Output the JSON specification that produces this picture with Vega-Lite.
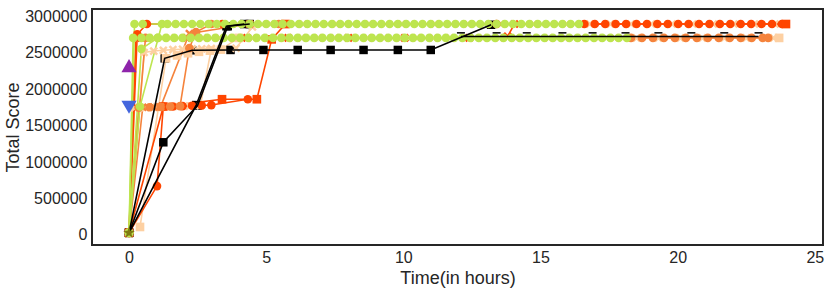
{
  "$schema": "https://vega.github.io/schema/vega-lite/v6.json",
  "width": 731,
  "height": 236,
  "autosize": "none",
  "padding": {"left": 92, "top": 9, "right": 8, "bottom": 46},
  "background": "white",
  "config": {
    "view": {"stroke": "#262626", "strokeWidth": 2},
    "axis": {"grid": false, "ticks": false, "domain": false, "labelFont": "Liberation Sans", "labelFontSize": 16, "labelColor": "#262626", "titleFont": "Liberation Sans", "titleFontSize": 18, "titleFontWeight": "normal", "titleColor": "#262626"}
  },
  "resolve": {"scale": {"shape": "independent"}},
  "data": {"values": [
    {"s":"P4","t":0.3,"v":2700000},{"s":"P4","t":0.9,"v":2700000},{"s":"P4","t":1.5,"v":2700000},{"s":"P4","t":2.1,"v":2700000},{"s":"P4","t":2.7,"v":2700000},{"s":"P4","t":3.3,"v":2700000},{"s":"P4","t":3.9,"v":2700000},{"s":"P4","t":4.5,"v":2700000},{"s":"P4","t":5.1,"v":2700000},{"s":"P4","t":5.7,"v":2700000},{"s":"P4","t":6.3,"v":2700000},{"s":"P4","t":6.9,"v":2700000},{"s":"P4","t":7.5,"v":2700000},{"s":"P4","t":8.1,"v":2700000},{"s":"P4","t":8.7,"v":2700000},{"s":"P4","t":9.3,"v":2700000},{"s":"P4","t":9.9,"v":2700000},{"s":"P4","t":10.5,"v":2700000},{"s":"P4","t":11.1,"v":2700000},{"s":"P4","t":11.7,"v":2700000},{"s":"P4","t":12.3,"v":2700000},{"s":"P4","t":12.9,"v":2700000},{"s":"P4","t":13.5,"v":2700000},{"s":"P4","t":14.1,"v":2700000},{"s":"P4","t":14.7,"v":2700000},{"s":"P4","t":15.3,"v":2700000},{"s":"P4","t":15.9,"v":2700000},{"s":"P4","t":16.5,"v":2700000},{"s":"P4","t":17.1,"v":2700000},{"s":"P4","t":17.7,"v":2700000},{"s":"P4","t":18.5,"v":2700000},{"s":"P4","t":19.3,"v":2700000},{"s":"P4","t":20.1,"v":2700000},{"s":"P4","t":20.9,"v":2700000},{"s":"P4","t":21.7,"v":2700000},{"s":"P4","t":22.5,"v":2700000},{"s":"P4","t":23.5,"v":2700000},
    {"s":"P1","t":0.4,"v":110000},{"s":"P1","t":1.35,"v":2420000},{"s":"P1","t":1.75,"v":2460000},{"s":"P1","t":2.15,"v":2490000},{"s":"P1","t":2.55,"v":2510000},{"s":"P1","t":2.95,"v":2525000},{"s":"P1","t":3.35,"v":2540000},{"s":"P1","t":4.0,"v":2700000},{"s":"P1","t":23.7,"v":2700000},
    {"s":"P2","t":0,"v":30000},{"s":"P2","t":0.55,"v":2500000},{"s":"P2","t":0.9,"v":2520000},{"s":"P2","t":1.25,"v":2530000},{"s":"P2","t":1.6,"v":2540000},{"s":"P2","t":1.95,"v":2545000},{"s":"P2","t":2.3,"v":2550000},{"s":"P2","t":2.65,"v":2550000},{"s":"P2","t":3.0,"v":2555000},{"s":"P2","t":3.9,"v":2560000},{"s":"P2","t":4.5,"v":2850000},{"s":"P2","t":5.15,"v":2890000},{"s":"P2","t":6.35,"v":2890000},{"s":"P2","t":7.55,"v":2890000},{"s":"P2","t":8.75,"v":2890000},{"s":"P2","t":9.95,"v":2890000},{"s":"P2","t":11.15,"v":2890000},{"s":"P2","t":12.35,"v":2890000},{"s":"P2","t":13.55,"v":2890000},{"s":"P2","t":14.75,"v":2890000},{"s":"P2","t":15.95,"v":2890000},{"s":"P2","t":16.8,"v":2890000},{"s":"P2","t":17.55,"v":2890000},{"s":"P2","t":18.3,"v":2890000},{"s":"P2","t":19.05,"v":2890000},{"s":"P2","t":19.8,"v":2890000},{"s":"P2","t":20.55,"v":2890000},{"s":"P2","t":21.3,"v":2890000},{"s":"P2","t":22.05,"v":2890000},{"s":"P2","t":22.8,"v":2890000},{"s":"P2","t":23.55,"v":2890000},
    {"s":"P3","t":0,"v":30000},{"s":"P3","t":0.2,"v":1740000},{"s":"P3","t":0.6,"v":1745000},{"s":"P3","t":1.0,"v":1750000},{"s":"P3","t":1.4,"v":1755000},{"s":"P3","t":1.8,"v":1760000},{"s":"P3","t":2.2,"v":1765000},{"s":"P3","t":2.6,"v":1770000},{"s":"P3","t":3.0,"v":2550000},
    {"s":"R1","t":0,"v":30000},{"s":"R1","t":0.3,"v":2750000},{"s":"R1","t":0.65,"v":2890000},{"s":"R1","t":3.4,"v":2890000},{"s":"R1","t":13.4,"v":2890000},{"s":"R1","t":16.6,"v":2890000},{"s":"R1","t":16.98,"v":2890000},{"s":"R1","t":17.36,"v":2890000},{"s":"R1","t":17.74,"v":2890000},{"s":"R1","t":18.12,"v":2890000},{"s":"R1","t":18.5,"v":2890000},{"s":"R1","t":18.88,"v":2890000},{"s":"R1","t":19.26,"v":2890000},{"s":"R1","t":19.64,"v":2890000},{"s":"R1","t":20.02,"v":2890000},{"s":"R1","t":20.4,"v":2890000},{"s":"R1","t":20.78,"v":2890000},{"s":"R1","t":21.16,"v":2890000},{"s":"R1","t":21.54,"v":2890000},{"s":"R1","t":21.92,"v":2890000},{"s":"R1","t":22.3,"v":2890000},{"s":"R1","t":22.68,"v":2890000},{"s":"R1","t":23.06,"v":2890000},{"s":"R1","t":23.44,"v":2890000},{"s":"R1","t":23.8,"v":2890000},
    {"s":"R2","t":0,"v":30000},{"s":"R2","t":1.02,"v":670000},{"s":"R2","t":1.25,"v":1760000},{"s":"R2","t":1.6,"v":1760000},{"s":"R2","t":1.95,"v":1765000},{"s":"R2","t":2.3,"v":1770000},{"s":"R2","t":2.65,"v":1775000},{"s":"R2","t":3.0,"v":1780000},{"s":"R2","t":4.33,"v":1860000},
    {"s":"R3","t":0,"v":30000},{"s":"R3","t":1.25,"v":1760000},{"s":"R3","t":3.39,"v":1860000},{"s":"R3","t":4.66,"v":1860000},{"s":"R3","t":5.2,"v":2680000},{"s":"R3","t":5.7,"v":2890000},{"s":"R3","t":23.95,"v":2890000},
    {"s":"R4","t":0,"v":30000},{"s":"R4","t":0.25,"v":2700000},{"s":"R4","t":2.1,"v":2700000},{"s":"R4","t":4.3,"v":2700000},{"s":"R4","t":5.8,"v":2700000},{"s":"R4","t":8.0,"v":2700000},{"s":"R4","t":10.05,"v":2700000},{"s":"R4","t":12.4,"v":2700000},{"s":"R4","t":13.8,"v":2720000},{"s":"R4","t":14.05,"v":2890000},
    {"s":"O1","t":0,"v":30000},{"s":"O1","t":0.35,"v":1745000},{"s":"O1","t":0.75,"v":1750000},{"s":"O1","t":1.15,"v":1755000},{"s":"O1","t":1.5,"v":1760000},{"s":"O1","t":1.86,"v":1765000},{"s":"O1","t":2.2,"v":2560000},{"s":"O1","t":2.44,"v":2780000},{"s":"O1","t":3.0,"v":2890000},{"s":"O1","t":5.46,"v":2890000},
    {"s":"O2","t":0,"v":30000},{"s":"O2","t":0.6,"v":2700000},{"s":"O2","t":18.3,"v":2700000},{"s":"O2","t":18.7,"v":2700000},{"s":"O2","t":19.1,"v":2700000},{"s":"O2","t":19.5,"v":2700000},{"s":"O2","t":19.9,"v":2700000},{"s":"O2","t":20.3,"v":2700000},{"s":"O2","t":20.7,"v":2700000},{"s":"O2","t":21.1,"v":2700000},{"s":"O2","t":21.5,"v":2700000},{"s":"O2","t":21.9,"v":2700000},{"s":"O2","t":22.3,"v":2700000},{"s":"O2","t":22.7,"v":2700000},{"s":"O2","t":23.1,"v":2700000},{"s":"O2","t":23.3,"v":2700000},
    {"s":"O3","t":0,"v":30000},{"s":"O3","t":0.5,"v":1750000},{"s":"O3","t":0.9,"v":1752000},{"s":"O3","t":1.15,"v":1755000},{"s":"O3","t":2.2,"v":2760000},{"s":"O3","t":4.4,"v":2890000},
    {"s":"G3","t":0,"v":30000},{"s":"G3","t":0.4,"v":1760000},{"s":"G3","t":1.2,"v":2890000},
    {"s":"G4","t":0,"v":30000},{"s":"G4","t":0.45,"v":2550000},{"s":"G4","t":1.05,"v":2700000},
    {"s":"G1","t":0,"v":30000},{"s":"G1","t":0.2,"v":2890000},{"s":"G1","t":0.5,"v":2890000},{"s":"G1","t":1.4,"v":2890000},{"s":"G1","t":1.7,"v":2890000},{"s":"G1","t":2.0,"v":2890000},{"s":"G1","t":2.3,"v":2890000},{"s":"G1","t":2.6,"v":2890000},{"s":"G1","t":2.9,"v":2890000},{"s":"G1","t":3.2,"v":2890000},{"s":"G1","t":3.5,"v":2890000},{"s":"G1","t":3.8,"v":2890000},{"s":"G1","t":4.1,"v":2890000},{"s":"G1","t":4.4,"v":2890000},{"s":"G1","t":4.7,"v":2890000},{"s":"G1","t":5.0,"v":2890000},{"s":"G1","t":5.3,"v":2890000},{"s":"G1","t":5.6,"v":2890000},{"s":"G1","t":5.9,"v":2890000},{"s":"G1","t":6.2,"v":2890000},{"s":"G1","t":6.5,"v":2890000},{"s":"G1","t":6.8,"v":2890000},{"s":"G1","t":7.1,"v":2890000},{"s":"G1","t":7.4,"v":2890000},{"s":"G1","t":7.7,"v":2890000},{"s":"G1","t":8.0,"v":2890000},{"s":"G1","t":8.3,"v":2890000},{"s":"G1","t":8.6,"v":2890000},{"s":"G1","t":8.9,"v":2890000},{"s":"G1","t":9.2,"v":2890000},{"s":"G1","t":9.5,"v":2890000},{"s":"G1","t":9.8,"v":2890000},{"s":"G1","t":10.1,"v":2890000},{"s":"G1","t":10.4,"v":2890000},{"s":"G1","t":10.7,"v":2890000},{"s":"G1","t":11.0,"v":2890000},{"s":"G1","t":11.3,"v":2890000},{"s":"G1","t":11.6,"v":2890000},{"s":"G1","t":11.9,"v":2890000},{"s":"G1","t":12.2,"v":2890000},{"s":"G1","t":12.5,"v":2890000},{"s":"G1","t":12.8,"v":2890000},{"s":"G1","t":13.1,"v":2890000},{"s":"G1","t":13.4,"v":2890000},{"s":"G1","t":13.7,"v":2890000},{"s":"G1","t":14.0,"v":2890000},{"s":"G1","t":14.3,"v":2890000},{"s":"G1","t":14.6,"v":2890000},{"s":"G1","t":14.9,"v":2890000},{"s":"G1","t":15.2,"v":2890000},{"s":"G1","t":15.5,"v":2890000},{"s":"G1","t":15.8,"v":2890000},{"s":"G1","t":16.1,"v":2890000},{"s":"G1","t":16.4,"v":2890000},
    {"s":"G2","t":0,"v":30000},{"s":"G2","t":0.15,"v":2700000},{"s":"G2","t":0.45,"v":2700000},{"s":"G2","t":0.75,"v":2700000},{"s":"G2","t":1.05,"v":2700000},{"s":"G2","t":1.35,"v":2700000},{"s":"G2","t":1.65,"v":2700000},{"s":"G2","t":1.95,"v":2700000},{"s":"G2","t":2.25,"v":2700000},{"s":"G2","t":2.55,"v":2700000},{"s":"G2","t":2.85,"v":2700000},{"s":"G2","t":3.15,"v":2700000},{"s":"G2","t":3.45,"v":2700000},{"s":"G2","t":3.75,"v":2700000},{"s":"G2","t":4.05,"v":2700000},{"s":"G2","t":4.35,"v":2700000},{"s":"G2","t":4.65,"v":2700000},{"s":"G2","t":4.95,"v":2700000},{"s":"G2","t":5.25,"v":2700000},{"s":"G2","t":5.55,"v":2700000},{"s":"G2","t":5.85,"v":2700000},{"s":"G2","t":6.15,"v":2700000},{"s":"G2","t":6.45,"v":2700000},{"s":"G2","t":6.75,"v":2700000},{"s":"G2","t":7.05,"v":2700000},{"s":"G2","t":7.35,"v":2700000},{"s":"G2","t":7.65,"v":2700000},{"s":"G2","t":7.95,"v":2700000},{"s":"G2","t":8.25,"v":2700000},{"s":"G2","t":8.55,"v":2700000},{"s":"G2","t":8.85,"v":2700000},{"s":"G2","t":9.15,"v":2700000},{"s":"G2","t":9.45,"v":2700000},{"s":"G2","t":9.75,"v":2700000},{"s":"G2","t":10.05,"v":2700000},{"s":"G2","t":10.35,"v":2700000},{"s":"G2","t":10.65,"v":2700000},{"s":"G2","t":10.95,"v":2700000},{"s":"G2","t":11.25,"v":2700000},{"s":"G2","t":11.55,"v":2700000},{"s":"G2","t":11.85,"v":2700000},{"s":"G2","t":12.15,"v":2700000},{"s":"G2","t":12.45,"v":2700000},{"s":"G2","t":12.75,"v":2700000},{"s":"G2","t":13.05,"v":2700000},{"s":"G2","t":13.35,"v":2700000},{"s":"G2","t":13.65,"v":2700000},{"s":"G2","t":13.95,"v":2700000},{"s":"G2","t":14.25,"v":2700000},{"s":"G2","t":14.55,"v":2700000},{"s":"G2","t":14.85,"v":2700000},{"s":"G2","t":15.15,"v":2700000},{"s":"G2","t":15.45,"v":2700000},{"s":"G2","t":15.75,"v":2700000},{"s":"G2","t":16.05,"v":2700000},{"s":"G2","t":16.35,"v":2700000},{"s":"G2","t":16.65,"v":2700000},{"s":"G2","t":16.95,"v":2700000},{"s":"G2","t":17.25,"v":2700000},{"s":"G2","t":17.55,"v":2700000},{"s":"G2","t":17.85,"v":2700000},{"s":"G2","t":18.15,"v":2700000},
    {"s":"B1","t":0,"v":30000},{"s":"B1","t":1.25,"v":1270000},{"s":"B1","t":2.5,"v":1775000},{"s":"B1","t":3.6,"v":2860000},{"s":"B1","t":4.4,"v":2890000},
    {"s":"B2","t":0,"v":30000},{"s":"B2","t":1.3,"v":2420000},{"s":"B2","t":2.3,"v":2530000},{"s":"B2","t":3.7,"v":2535000},{"s":"B2","t":4.9,"v":2535000},{"s":"B2","t":6.15,"v":2535000},{"s":"B2","t":7.35,"v":2535000},{"s":"B2","t":8.55,"v":2535000},{"s":"B2","t":9.8,"v":2535000},{"s":"B2","t":11.0,"v":2535000},{"s":"B2","t":13.2,"v":2880000},
    {"s":"B4","t":0,"v":30000},{"s":"B4","t":2.45,"v":1780000},{"s":"B4","t":3.55,"v":2860000},{"s":"B4","t":4.2,"v":2890000},
    {"s":"B3","t":12.1,"v":2720000},{"s":"B3","t":13.4,"v":2720000},{"s":"B3","t":14.5,"v":2720000},{"s":"B3","t":15.8,"v":2720000},{"s":"B3","t":16.9,"v":2720000},{"s":"B3","t":18.1,"v":2720000},{"s":"B3","t":19.3,"v":2720000},{"s":"B3","t":20.5,"v":2720000},{"s":"B3","t":21.7,"v":2720000},{"s":"B3","t":22.95,"v":2720000},
    {"s":"M1","t":0,"v":2320000},
    {"s":"M2","t":0,"v":1750000},
    {"s":"M3","t":0,"v":30000}
  ]},
  "encoding": {
    "x": {"field": "t", "type": "quantitative", "title": "Time(in hours)", "scale": {"domain": [-1.35, 25.3], "nice": false, "zero": false}, "axis": {"values": [0, 5, 10, 15, 20, 25], "labelPadding": 4, "titlePadding": 4}},
    "y": {"field": "v", "type": "quantitative", "title": "Total Score", "scale": {"domain": [-137000, 3096000], "nice": false, "zero": false}, "axis": {"values": [0, 500000, 1000000, 1500000, 2000000, 2500000, 3000000], "format": "d", "labelPadding": 5, "titlePadding": 2}},
    "color": {"field": "s", "type": "nominal", "legend": null, "scale": {
      "domain": ["P4","P1","P2","P3","R1","R2","R3","R4","O1","O2","O3","G1","G2","G3","G4","B1","B2","B3","B4","M1","M2","M3"],
      "range": ["#fdd0a2","#fdd0a2","#fdd0a2","#fdd0a2","#ff4500","#ff4500","#ff4500","#ff4500","#f5833c","#f5833c","#f5833c","#bde54f","#bde54f","#bde54f","#bde54f","#000000","#000000","#000000","#000000","#8e24aa","#4466dd","#7f7a10"]}}
  },
  "layer": [
    {"transform": [{"filter": {"field": "s", "oneOf": ["P1","P2","P3","R1","R2","R3","R4","O1","O2","O3","G1","G2","G3","G4"]}}],
     "mark": {"type": "line", "strokeWidth": 1.6},
     "encoding": {"detail": {"field": "s"}, "order": {"field": "t"}}},
    {"transform": [{"filter": {"field": "s", "oneOf": ["B1","B2","B4"]}}],
     "mark": {"type": "point", "filled": true, "opacity": 1, "shape": "square", "size": 72}},
    {"transform": [{"filter": {"field": "s", "oneOf": ["P4","P1","P2","P3","R1","R2","R3","R4","O1","O2","O3","G1","G2","G3","G4"]}}],
     "mark": {"type": "point", "filled": true, "opacity": 1, "size": 75},
     "encoding": {"shape": {"field": "s", "type": "nominal", "legend": null, "scale": {
       "domain": ["P4","P1","P2","P3","R1","R2","R3","R4","O1","O2","O3","G1","G2","G3","G4"],
       "range": ["M-1,-0.6L-0.6,-1L0,-0.4L0.6,-1L1,-0.6L0.4,0L1,0.6L0.6,1L0,0.4L-0.6,1L-1,0.6L-0.4,0Z","square","M-1,-0.6L-0.6,-1L0,-0.4L0.6,-1L1,-0.6L0.4,0L1,0.6L0.6,1L0,0.4L-0.6,1L-1,0.6L-0.4,0Z","M-1,-0.6L-0.6,-1L0,-0.4L0.6,-1L1,-0.6L0.4,0L1,0.6L0.6,1L0,0.4L-0.6,1L-1,0.6L-0.4,0Z","circle","circle","square","M-1,-0.6L-0.6,-1L0,-0.4L0.6,-1L1,-0.6L0.4,0L1,0.6L0.6,1L0,0.4L-0.6,1L-1,0.6L-0.4,0Z","circle","circle","M-1,-0.6L-0.6,-1L0,-0.4L0.6,-1L1,-0.6L0.4,0L1,0.6L0.6,1L0,0.4L-0.6,1L-1,0.6L-0.4,0Z","circle","circle","circle","circle"]}}}},
    {"transform": [{"filter": {"field": "s", "oneOf": ["B1","B2","B3","B4"]}}],
     "mark": {"type": "line", "strokeWidth": 1.6},
     "encoding": {"detail": {"field": "s"}, "order": {"field": "t"}}},
    {"transform": [{"filter": {"field": "s", "equal": "B3"}}],
     "mark": {"type": "point", "filled": false, "opacity": 1, "strokeWidth": 1.5, "shape": "M-1,-0.9H1", "size": 64}},
    {"transform": [{"filter": {"field": "s", "oneOf": ["M1","M2"]}}],
     "mark": {"type": "point", "filled": true, "opacity": 1, "size": 230},
     "encoding": {"shape": {"field": "s", "type": "nominal", "legend": null, "scale": {"domain": ["M1","M2"], "range": ["triangle-up","triangle-down"]}}}},
    {"transform": [{"filter": {"field": "s", "equal": "M3"}}],
     "mark": {"type": "point", "filled": true, "opacity": 1, "size": 150, "shape": "M0,-1L0.235,-0.324L0.951,-0.309L0.38,0.124L0.588,0.809L0,0.4L-0.588,0.809L-0.38,0.124L-0.951,-0.309L-0.235,-0.324Z"}}
  ]
}
